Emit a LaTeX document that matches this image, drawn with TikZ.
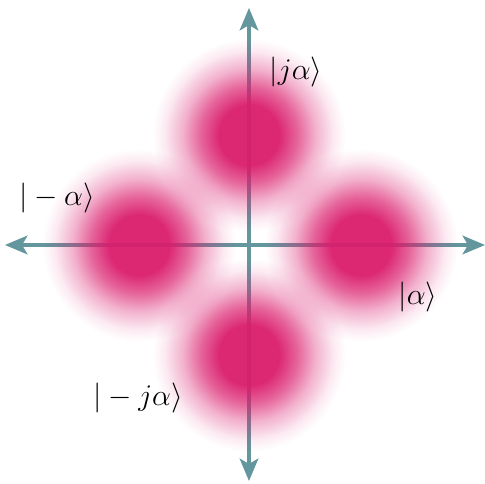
\documentclass[tikz,border=0pt]{standalone}
\usetikzlibrary{arrows.meta,fadings}
\definecolor{blobpink}{RGB}{218,28,108}
\definecolor{axisteal}{RGB}{100,150,158}
\pgfdeclareradialshading{blobshade}{\pgfpoint{0bp}{0bp}}{color(0bp)=(white); color(7.5bp)=(white); color(12bp)=(black!28); color(16.5bp)=(black!64); color(21bp)=(black!90); color(24bp)=(black); color(50bp)=(black)}
\pgfdeclarefading{blobfade}{\pgfuseshading{blobshade}}
\begin{document}
\begin{tikzpicture}[x=0.4pt,y=0.4pt,line cap=round,line join=round,
  axis/.style={draw=axisteal,line width=1.3pt,{Stealth[length=9pt,width=7.5pt,inset=2.2pt]}-{Stealth[length=9pt,width=7.5pt,inset=2.2pt]}},
  blob/.style={fill=blobpink,fill opacity=0.95,path fading=blobfade},
  ket/.style={inner sep=0pt,font=\large}]
  \useasboundingbox (-249,-239) rectangle (236,245);
  \coordinate (W) at (-244,0);
  \coordinate (E) at (236,0);
  \coordinate (S) at (0,-236);
  \coordinate (N) at (0,237);
  \draw[axis] (W) -- (E);
  \draw[axis] (S) -- (N);
  \foreach \p in {(0,110),(-110,0),(112,0),(0,-110)}
    \fill[blob] \p circle (100);
  \node[ket] (kj) at (47,173) {$|j\alpha\rangle$};
  \node[ket] (km) at (-192,47) {$|-\alpha\rangle$};
  \node[ket] (ka) at (169,-52) {$|\alpha\rangle$};
  \node[ket] (kmj) at (-111,-153) {$|-j\alpha\rangle$};
\end{tikzpicture}
\end{document}
